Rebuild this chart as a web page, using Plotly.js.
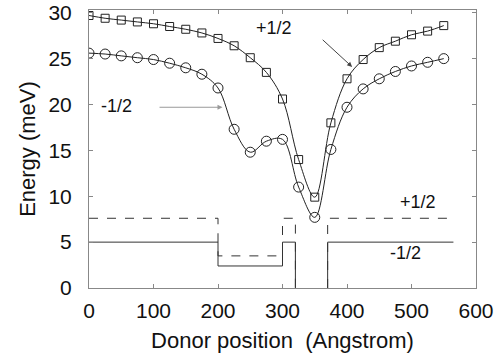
<!DOCTYPE html>
<html>
<head>
<meta charset="utf-8">
<script src="https://cdn.plot.ly/plotly-3.0.1.min.js"></script>
<style>html,body{margin:0;padding:0;background:#fff;}#chart{width:501px;height:356px;}</style>
</head>
<body>
<div id="chart"></div>
<script>
// +1/2 level (squares)
const plusX = [0,25,50,75,100,125,150,175,200,225,250,275,300,325,350,375,400,425,450,475,500,525,550];
const plusY = [29.7,29.4,29.2,29.0,28.8,28.5,28.2,27.8,27.2,26.4,25.1,23.5,20.6,14.0,9.9,18.0,22.8,24.9,26.2,26.9,27.6,28.0,28.6];
// -1/2 level (circles)
const minusX = [0,25,50,75,100,125,150,175,200,225,250,275,300,325,350,375,400,425,450,475,500,525,550];
const minusY = [25.6,25.5,25.3,25.1,24.9,24.5,24.0,23.3,21.8,17.3,14.8,16.0,16.2,11.0,7.7,15.1,19.7,21.7,22.8,23.6,24.2,24.6,25.0];
// potential profiles (step functions); null = gap
const stepX = [0,200,200,300,300,320,320,null,370,370,565];
const stepPlus = [7.6,7.6,3.5,3.5,7.6,7.6,0,null,0,7.6,7.6];
const stepMinus = [5.0,5.0,2.4,2.4,5.0,5.0,0,null,0,5.0,5.0];
const xTicks = [0,100,200,300,400,500,600];
const yTicks = [0,5,10,15,20,25,30];

const font = {family: 'Liberation Sans, Arial, sans-serif', color: '#111'};

const traces = [
  {x: plusX, y: plusY, mode: 'lines+markers', line: {shape: 'spline', smoothing: 1, color: '#222', width: 1},
   marker: {symbol: 'square-open', size: 8, color: '#222', line: {width: 1}}, hoverinfo: 'skip'},
  {x: minusX, y: minusY, mode: 'lines+markers', line: {shape: 'spline', smoothing: 1, color: '#222', width: 1},
   marker: {symbol: 'circle-open', size: 10, color: '#222', line: {width: 1}}, hoverinfo: 'skip'},
  {x: stepX, y: stepPlus, mode: 'lines', connectgaps: false, line: {color: '#333', width: 1, dash: 'dash'}, hoverinfo: 'skip'},
  {x: stepX, y: stepMinus, mode: 'lines', connectgaps: false, line: {color: '#333', width: 1}, hoverinfo: 'skip'}
];

const layout = {
  width: 501, height: 356,
  margin: {l: 89, r: 25, t: 10, b: 68},
  paper_bgcolor: '#fff', plot_bgcolor: '#fff',
  showlegend: false,
  font: Object.assign({size: 21}, font),
  xaxis: {
    range: [0, 600], tickvals: xTicks, ticktext: xTicks.map(String),
    showgrid: false, zeroline: false, showline: true, linecolor: '#888', linewidth: 1, mirror: 'allticks',
    ticks: 'inside', ticklen: 4, tickcolor: '#888',
    tickfont: Object.assign({size: 21}, font), ticklabelstandoff: 4,
    title: {text: 'Donor position\u00a0\u00a0(Angstrom)', font: Object.assign({size: 22}, font), standoff: 11}
  },
  yaxis: {
    range: [0, 30.3], tickvals: yTicks, ticktext: yTicks.map(String),
    showgrid: false, zeroline: false, showline: true, linecolor: '#888', linewidth: 1, mirror: 'allticks',
    ticks: 'inside', ticklen: 4, tickcolor: '#888',
    tickfont: Object.assign({size: 21}, font), ticklabelstandoff: 12,
    title: {text: 'Energy (meV)', font: Object.assign({size: 22}, font), standoff: 6}
  },
  annotations: [
    {x: 287, y: 28.3, text: '+1/2', showarrow: false, font: Object.assign({size: 18}, font)},
    {x: 408, y: 24.1, ax: 360, ay: 27.2, axref: 'x', ayref: 'y', text: '', showarrow: true,
     arrowhead: 2, arrowsize: 1, arrowwidth: 1, arrowcolor: '#444'},
    {x: 43, y: 19.8, text: '-1/2', showarrow: false, font: Object.assign({size: 18}, font)},
    {x: 207, y: 19.7, ax: 107, ay: 19.7, axref: 'x', ayref: 'y', text: '', showarrow: true,
     arrowhead: 2, arrowsize: 1, arrowwidth: 1, arrowcolor: '#999'},
    {x: 510, y: 9.35, text: '+1/2', showarrow: false, font: Object.assign({size: 18}, font)},
    {x: 490, y: 3.8, text: '-1/2', showarrow: false, font: Object.assign({size: 18}, font)}
  ]
};

Plotly.newPlot('chart', traces, layout, {staticPlot: true, displayModeBar: false});
</script>
</body>
</html>
